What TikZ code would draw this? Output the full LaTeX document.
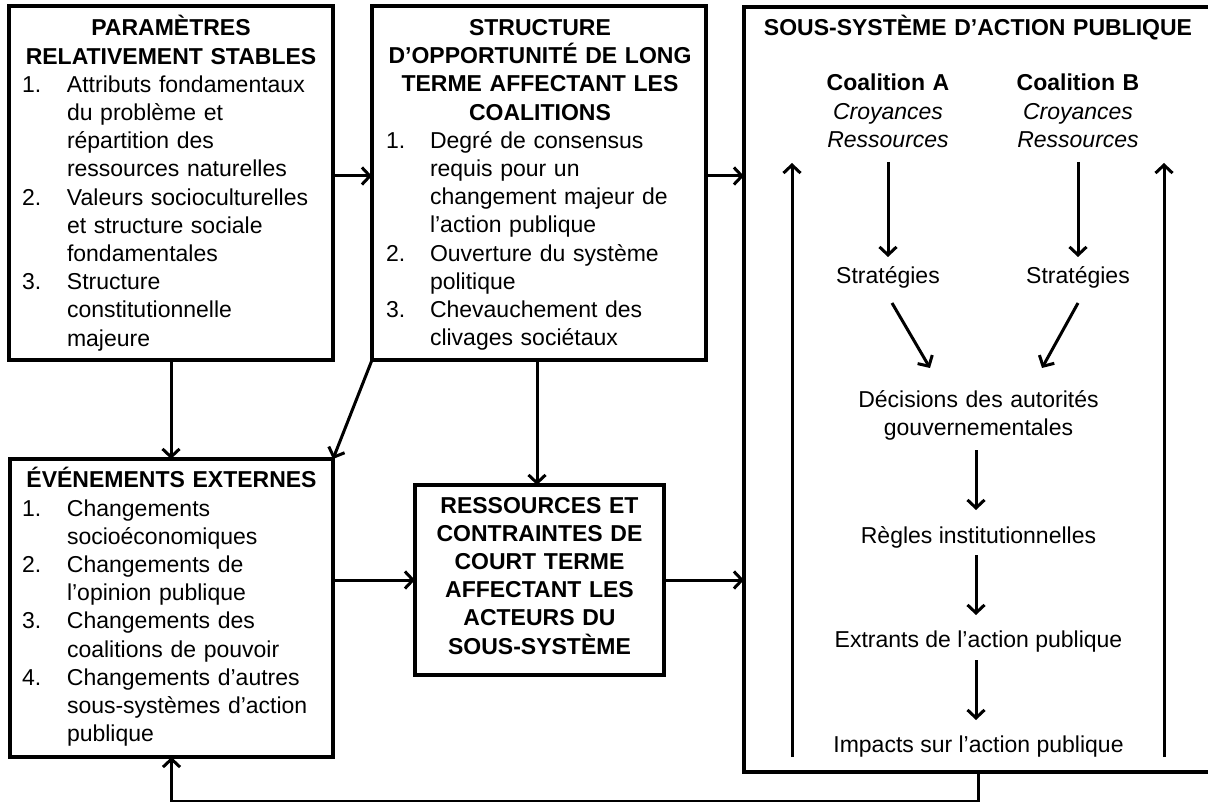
\documentclass[tikz,border=0pt]{standalone}
\usepackage{fontspec}
\setmainfont{Liberation Sans}
\usetikzlibrary{arrows.meta}
\newcommand\lnum[2][45pt]{\makebox[#1][l]{#2}}
\newcommand\lind[1][45pt]{\hspace*{#1}}
\begin{document}
\begin{tikzpicture}[x=1pt,y=-1pt,
  boxst/.style={draw, line width=3.2pt, anchor=north west, inner sep=0pt, outer sep=0pt},
  arr/.style={line width=3pt, -{Straight Barb[length=8pt,width=17pt]}},
  txt/.style={inner sep=0pt, outer sep=0pt, font=\fontsize{23}{28.2}\selectfont},
  lst/.style={txt, anchor=base west, align=left, text width=#1},
  ctr/.style={txt, anchor=base, align=center, text width=#1},
]
\useasboundingbox (0,0) rectangle (1208,802);

% boxes
\node[boxst, minimum width=324pt, minimum height=354pt] (p) at (9,6) {};
\node[boxst, minimum width=334pt, minimum height=354pt] (s) at (372,6) {};
\node[boxst, minimum width=468pt, minimum height=765pt] (sub) at (744,7) {};
\node[boxst, minimum width=323pt, minimum height=298pt] (e) at (10,459) {};
\node[boxst, minimum width=249pt, minimum height=190pt] (r) at (415,485) {};

% box 1
\node[ctr=320pt] (pt) at (171,36) {\bfseries PARAMÈTRES\\RELATIVEMENT STABLES};
\node[lst=310pt] (pl) at (22,92.4) {\lnum{1.}Attributs fondamentaux\\
\lind du problème et\\
\lind répartition des\\
\lind ressources naturelles\\
\lnum{2.}Valeurs socioculturelles\\
\lind et structure sociale\\
\lind fondamentales\\
\lnum{3.}Structure\\
\lind constitutionnelle\\
\lind majeure};

% box 2
\node[ctr=330pt] (st) at (540,35.5) {\bfseries STRUCTURE\\D’OPPORTUNITÉ DE LONG\\TERME AFFECTANT LES\\COALITIONS};
\node[lst=315pt] (sl) at (386,148.3) {\lnum[44pt]{1.}Degré de consensus\\
\lind[44pt]requis pour un\\
\lind[44pt]changement majeur de\\
\lind[44pt]l’action publique\\
\lnum[44pt]{2.}Ouverture du système\\
\lind[44pt]politique\\
\lnum[44pt]{3.}Chevauchement des\\
\lind[44pt]clivages sociétaux};

% box 4
\node[ctr=320pt] (et) at (171.5,487) {\bfseries ÉVÉNEMENTS EXTERNES};
\node[lst=310pt] (el) at (22,516) {\lnum{1.}Changements\\
\lind socioéconomiques\\
\lnum{2.}Changements de\\
\lind l’opinion publique\\
\lnum{3.}Changements des\\
\lind coalitions de pouvoir\\
\lnum{4.}Changements d’autres\\
\lind sous-systèmes d’action\\
\lind publique};

% box 5
\node[ctr=245pt] (rt) at (539.5,513) {\bfseries RESSOURCES ET\\CONTRAINTES DE\\COURT TERME\\AFFECTANT LES\\ACTEURS DU\\SOUS-SYSTÈME};

% box 3
\node[ctr=450pt] (subt) at (978,36) {\bfseries SOUS-SYSTÈME D’ACTION PUBLIQUE};
\node[ctr=200pt] (coalA) at (888,91) {\textbf{Coalition A}\\\textit{Croyances}\\\textit{Ressources}};
\node[ctr=200pt] (coalB) at (1078,91) {\textbf{Coalition B}\\\textit{Croyances}\\\textit{Ressources}};
\node[txt, anchor=base] (stratA) at (888,284) {Stratégies};
\node[txt, anchor=base] (stratB) at (1078,284) {Stratégies};
\node[ctr=300pt] (dec) at (978.5,407) {Décisions des autorités\\gouvernementales};
\node[txt, anchor=base] (regl) at (978.5,543) {Règles institutionnelles};
\node[txt, anchor=base] (extr) at (978.5,647) {Extrants de l’action publique};
\node[txt, anchor=base] (imp) at (978.5,752) {Impacts sur l’action publique};

\coordinate (lb) at (792,757);
\coordinate (lt) at (792,163);
\coordinate (rb) at (1164,757);
\coordinate (rtop) at (1164,163);

% connectors inside subsystem
\draw[arr] ([yshift=-71pt]coalA.base) -- ([yshift=27pt]stratA.base);
\draw[arr] ([yshift=-71pt]coalB.base) -- ([yshift=27pt]stratB.base);
\draw[arr] ([xshift=4pt,yshift=-19pt]stratA.base) -- ([xshift=-48.5pt,yshift=39pt]dec.base);
\draw[arr] ([yshift=-19pt]stratB.base) -- ([xshift=63.5pt,yshift=39pt]dec.base);
\draw[arr] ([xshift=-2.5pt,yshift=-43pt]dec.base) -- ([xshift=-2.5pt,yshift=33pt]regl.base);
\draw[arr] ([xshift=-2.5pt,yshift=-12pt]regl.base) -- ([xshift=-2.5pt,yshift=32pt]extr.base);
\draw[arr] ([xshift=-2.5pt,yshift=-13pt]extr.base) -- ([xshift=-2.5pt,yshift=32pt]imp.base);
\draw[arr] (lb) -- (lt);
\draw[arr] (rb) -- (rtop);

% main connectors
\draw[arr] ([yshift=7pt]p.east) -- ([yshift=7pt]s.west);
\draw[arr] ([yshift=7pt]s.east) -- ([yshift=7pt]s.east -| sub.west);
\draw[arr] (p.south) -- (p.south |- e.north);
\draw[arr] (s.south west) -- (e.north east);
\draw[arr] ([xshift=-2pt]s.south) -- ([xshift=-2pt]s.south |- r.north);
\draw[arr] (e.east |- r.west) -- (r.west);
\draw[arr] (r.east) -- (r.east -| sub.west);
\draw[arr] (sub.south) -- ++(0,29) -| (e.south);
\end{tikzpicture}
\end{document}
